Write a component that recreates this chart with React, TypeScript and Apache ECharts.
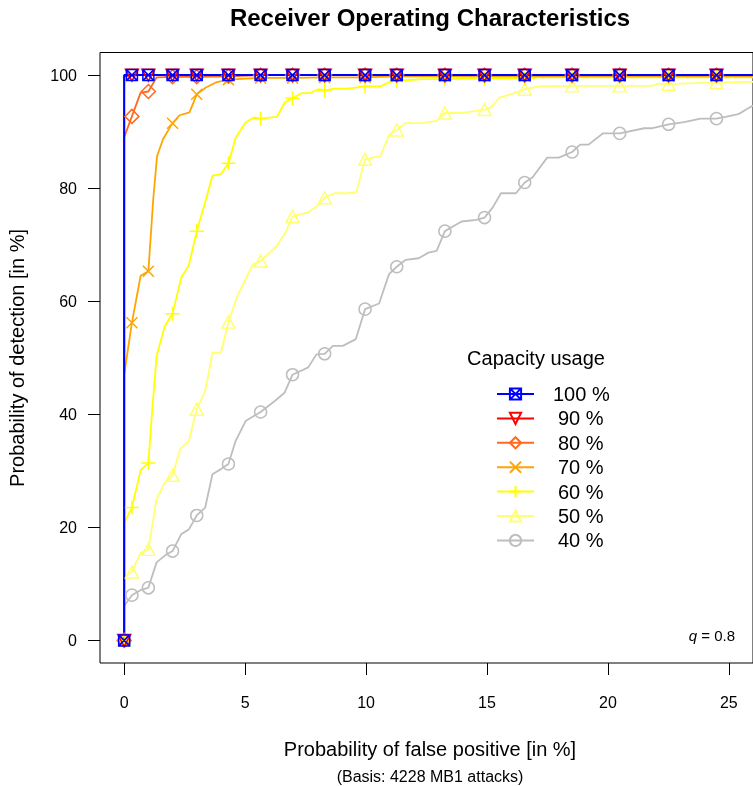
import React, { useEffect, useRef } from "react";
import * as echarts from "echarts";

const FONT = "'Liberation Sans', Arial, Helvetica, sans-serif";

const X_TICKS = [0, 5, 10, 15, 20, 25];
const Y_TICKS = [0, 20, 40, 60, 80, 100];

// x positions (false positive %) where markers are drawn
const MARKER_X = [0, 0.32, 1, 2, 3, 4.31, 5.64, 6.96, 8.29, 9.96, 11.27, 13.26, 14.9, 16.56, 18.52, 20.49, 22.51, 24.49];

const S100 = [[0, 0], [0, 100], [0.32, 100], [1, 100], [2, 100], [3, 100], [4.31, 100], [5.64, 100], [6.96, 100], [8.29, 100], [9.96, 100], [11.27, 100], [13.26, 100], [14.9, 100], [16.56, 100], [18.52, 100], [20.49, 100], [22.51, 100], [24.49, 100], [26, 100]];
const S90 = [[0, 0], [0, 99.8], [0.32, 100], [1, 100], [2, 100], [3, 100], [4.31, 100], [5.64, 100], [6.96, 100], [8.29, 100], [9.96, 100], [11.27, 100], [13.26, 100], [14.9, 100], [16.56, 100], [18.52, 100], [20.49, 100], [22.51, 100], [24.49, 100], [26, 100]];
const S80 = [[0, 0], [0, 89], [0.32, 92.7], [0.68, 96.9], [1, 97.1], [1.34, 99.6], [2, 99.7], [3, 99.7], [4.31, 99.8], [5.64, 100], [6.96, 100], [8.29, 100], [9.96, 100], [11.27, 100], [13.26, 100], [14.9, 100], [16.56, 100], [18.52, 100], [20.49, 100], [22.51, 100], [24.49, 100], [26, 100]];
const S70 = [[0, 0], [0, 47], [0.32, 56.2], [0.68, 64.5], [1, 65.3], [1.2, 78], [1.36, 85.7], [1.61, 88.7], [2, 91.5], [2.29, 92.9], [2.7, 93.4], [3, 96.6], [3.38, 97.8], [3.79, 98.7], [4.31, 99.2], [5.64, 99.5], [6.96, 99.5], [8.29, 99.6], [9.96, 99.6], [11.27, 99.8], [13.26, 99.8], [14.9, 99.8], [16.56, 99.8], [18.52, 99.8], [20.49, 99.8], [22.51, 99.8], [24.49, 99.8], [26, 99.8]];
const S60 = [[0, 0], [0, 20.8], [0.32, 23.5], [0.68, 30.1], [1, 31.4], [1.13, 39.1], [1.34, 50.3], [1.68, 55.6], [2, 57.8], [2.36, 64.2], [2.67, 66.3], [3, 72.4], [3.38, 78], [3.65, 82.2], [4, 82.5], [4.31, 84.4], [4.61, 88.9], [5.02, 91.6], [5.36, 92.5], [5.64, 92.3], [6.31, 92.6], [6.65, 95.2], [6.96, 95.9], [7.33, 96.8], [7.68, 96.8], [8.02, 97.5], [8.29, 97.3], [8.7, 97.6], [9.24, 97.6], [9.96, 98.0], [10.6, 98.0], [11.0, 98.8], [11.27, 99.0], [12.38, 99.3], [13.26, 99.3], [14.9, 99.4], [16.56, 99.4], [17.15, 99.6], [18.52, 99.6], [20.49, 99.6], [22.51, 99.6], [24.49, 99.6], [26, 99.6]];
const S50 = [[0, 0], [0, 11.4], [0.32, 12.1], [0.68, 15.5], [1, 16.1], [1.34, 25.0], [1.68, 27.9], [2, 29.2], [2.32, 33.9], [2.67, 35.2], [3, 40.9], [3.35, 44.1], [3.65, 50.9], [4, 50.9], [4.31, 56.3], [4.68, 60.9], [5.02, 63.9], [5.32, 66.5], [5.64, 67.1], [6.31, 69.8], [6.68, 72.2], [6.96, 75.0], [7.6, 75.7], [8.02, 77.0], [8.29, 78.3], [8.7, 79.1], [9.24, 79.1], [9.6, 79.3], [9.96, 85.1], [10.6, 85.7], [10.95, 89.4], [11.27, 90.3], [11.63, 91.5], [12.31, 91.5], [12.92, 91.9], [13.26, 93.3], [14.0, 93.3], [14.9, 93.9], [15.17, 94.3], [15.51, 96.0], [16.2, 96.9], [16.56, 97.5], [17.15, 98.0], [18.52, 98.1], [20.49, 98.1], [21.85, 98.1], [22.06, 98.5], [22.51, 98.4], [24.49, 98.7], [26, 98.8]];
const S40 = [[0, 0], [0, 6.1], [0.32, 8.0], [0.72, 9.0], [1, 9.3], [1.34, 13.8], [1.68, 15.0], [2, 15.8], [2.36, 18.8], [2.67, 19.6], [3, 22.1], [3.35, 23.5], [3.65, 29.4], [4, 30.3], [4.31, 31.2], [4.61, 35.3], [5.02, 38.8], [5.64, 40.4], [6.24, 42.4], [6.63, 43.8], [6.96, 47.0], [7.61, 48.3], [7.95, 50.6], [8.29, 50.7], [8.63, 52.1], [9.04, 52.1], [9.58, 53.3], [9.96, 58.6], [10.54, 59.6], [10.95, 64.8], [11.27, 66.1], [11.63, 67.3], [12.18, 67.6], [12.58, 68.6], [12.92, 68.9], [13.26, 72.4], [13.95, 74.1], [14.56, 74.4], [14.9, 74.8], [15.24, 76.6], [15.58, 79.1], [16.2, 79.1], [16.56, 81.0], [16.88, 81.9], [17.49, 85.4], [17.97, 85.4], [18.52, 86.4], [18.85, 87.7], [19.2, 87.7], [19.8, 89.7], [20.49, 89.7], [21.5, 90.6], [21.85, 90.6], [22.51, 91.3], [23.15, 91.7], [23.83, 92.3], [24.49, 92.3], [25.06, 92.8], [25.4, 93.1], [25.75, 94.0], [26, 94.6]];

const SERIES_NAMES = ["100 %", "90 %", "80 %", "70 %", "60 %", "50 %", "40 %"];

const SYM_SQUARE_X = "path://M0,0L10,0L10,10L0,10ZM0,0L10,10M10,0L0,10";
const SYM_TRI_DOWN = "path://M0,0L10,0L5,9Z";
const SYM_CROSS = "path://M0,0L10,10M10,0L0,10";
const SYM_PLUS = "path://M5,0L5,10M0,5L10,5";

const STYLES: Record<string, { color: string; symbol: string; size: number | number[]; width: number }> = {
  "100 %": { color: "#0000FF", symbol: SYM_SQUARE_X, size: 11, width: 2 },
  "90 %": { color: "#FF0000", symbol: SYM_TRI_DOWN, size: [13, 12], width: 1.8 },
  "80 %": { color: "#FF6A1F", symbol: "diamond", size: 14, width: 1.8 },
  "70 %": { color: "#FFA500", symbol: SYM_CROSS, size: 11, width: 1.8 },
  "60 %": { color: "#FFFF00", symbol: SYM_PLUS, size: 14, width: 1.8 },
  "50 %": { color: "#FFFF70", symbol: "triangle", size: [13, 12], width: 1.8 },
  "40 %": { color: "#BEBEBE", symbol: "circle", size: 12, width: 1.8 },
};

const DATA: Record<string, number[][]> = {
  "100 %": S100, "90 %": S90, "80 %": S80, "70 %": S70, "60 %": S60, "50 %": S50, "40 %": S40,
};

function isMarker(i: number, x: number) {
  if (i === 0) return true;
  return x > 0 && MARKER_X.some((m) => Math.abs(m - x) < 1e-6);
}

export default function App() {
  const ref = useRef<HTMLDivElement>(null);
  useEffect(() => {
    if (!ref.current) return;
    const chart = echarts.init(ref.current, undefined, { renderer: "svg" });
    const order = [...SERIES_NAMES].reverse();
    const series = order.map((name) => {
      const st = STYLES[name];
      return {
        name,
        type: "line",
        symbol: st.symbol,
        symbolSize: st.size,
        showSymbol: true,
        showAllSymbol: true,
        lineStyle: { color: st.color, width: st.width },
        itemStyle: { color: "rgba(0,0,0,0)", borderColor: st.color, borderWidth: 1.5 },
        emphasis: { disabled: true },
        data: DATA[name].map((p, i) =>
          isMarker(i, p[0]) ? { value: p } : { value: p, symbol: "none" }
        ),
      };
    });
    chart.setOption({
      animation: false,
      grid: {
        left: 100, top: 52.5, width: 660.2, height: 610.5,
        show: true, borderColor: "#000", borderWidth: 1, backgroundColor: "transparent",
        containLabel: false,
      },
      xAxis: {
        type: "value", min: -1, max: 26,
        axisLine: { show: false, onZero: false },
        splitLine: { show: false },
        axisTick: { show: true, inside: false, length: 12, customValues: X_TICKS, lineStyle: { color: "#000", width: 1 } },
        axisLabel: { customValues: X_TICKS, margin: 31, fontSize: 16, color: "#000", fontFamily: FONT },
      },
      yAxis: {
        type: "value", min: -4, max: 104,
        axisLine: { show: false, onZero: false },
        splitLine: { show: false },
        axisTick: { show: true, inside: false, length: 12, customValues: Y_TICKS, lineStyle: { color: "#000", width: 1 } },
        axisLabel: { customValues: Y_TICKS, margin: 23, fontSize: 16, color: "#000", fontFamily: FONT },
      },
      legend: {
        orient: "vertical", left: 496, top: 384, padding: 0,
        itemWidth: 37, itemHeight: 14, itemGap: 4.4,
        selectedMode: false,
        data: SERIES_NAMES,
        formatter: (n: string) => (n === "100 %" ? "{a|" + n + "}" : "{b|" + n + "}"),
        textStyle: {
          fontSize: 20, fontFamily: FONT, color: "#000",
          rich: {
            a: { fontSize: 20, fontFamily: FONT, color: "#000", padding: [0, 0, 0, 14], lineHeight: 14 },
            b: { fontSize: 20, fontFamily: FONT, color: "#000", padding: [0, 0, 0, 19], lineHeight: 14 },
          },
        },
      },
      graphic: [
        { type: "text", x: 430, y: 17, style: { text: "Receiver Operating Characteristics", fontSize: 24, fontWeight: "bold", fontFamily: FONT, fill: "#000", align: "center", verticalAlign: "middle" } },
        { type: "text", x: 17, y: 358, rotation: Math.PI / 2, style: { text: "Probability of detection [in %]", fontSize: 20, fontFamily: FONT, fill: "#000", align: "center", verticalAlign: "middle" } },
        { type: "text", x: 430, y: 749, style: { text: "Probability of false positive [in %]", fontSize: 20, fontFamily: FONT, fill: "#000", align: "center", verticalAlign: "middle" } },
        { type: "text", x: 430, y: 776, style: { text: "(Basis: 4228 MB1 attacks)", fontSize: 16, fontFamily: FONT, fill: "#000", align: "center", verticalAlign: "middle" } },
        { type: "text", x: 536, y: 358, style: { text: "Capacity usage", fontSize: 20, fontFamily: FONT, fill: "#000", align: "center", verticalAlign: "middle" } },
        { type: "text", x: 735, y: 635, style: { text: "{i|q} = 0.8", fontSize: 15, fontFamily: FONT, fill: "#000", align: "right", verticalAlign: "middle", rich: { i: { fontStyle: "italic", fontSize: 15, fontFamily: FONT, fill: "#000" } } } },
      ],
      series,
    });
    return () => chart.dispose();
  }, []);
  return <div ref={ref} style={{ position: "fixed", left: 0, top: 0, width: 753, height: 786 }} />;
}
